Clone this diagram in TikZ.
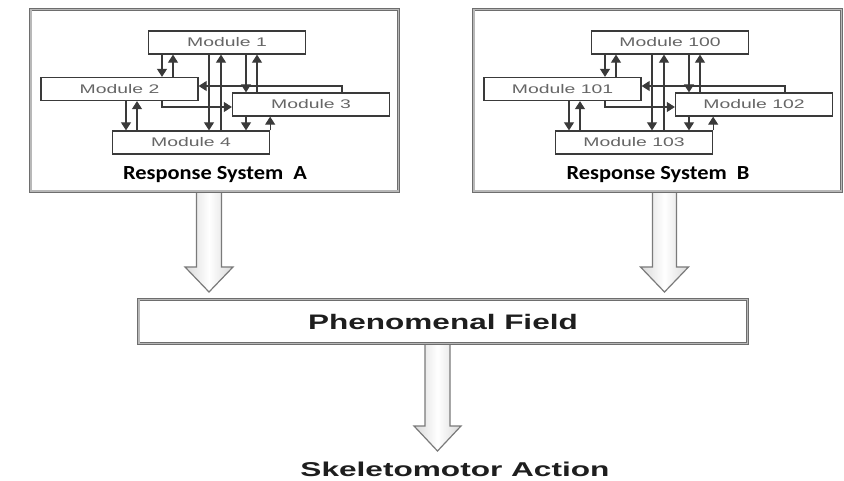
\documentclass[tikz,border=0pt]{standalone}
\usepackage{fontspec}
\usetikzlibrary{arrows.meta,calc}
\newfontfamily\modfont[FakeStretch=1.55]{Liberation Sans}
\newfontfamily\phenfont[FakeStretch=1.5]{Liberation Sans}
\newfontfamily\skelfont[FakeStretch=1.58]{Liberation Sans}
\newfontfamily\titlefont[FakeStretch=1.12]{Carlito}
\definecolor{modline}{HTML}{3A3A3A}
\definecolor{modtext}{HTML}{666666}
\definecolor{frameout}{HTML}{6E6E6E}
\definecolor{framemid}{HTML}{B8B8B8}
\definecolor{arrowline}{HTML}{7A7A7A}
\definecolor{bigtext}{HTML}{1E1E1E}
\pgfdeclarelayer{background}
\pgfsetlayers{background,main}
\tikzset{
  module/.style={draw=modline, line width=1.3pt, fill=white, minimum width=157pt,
    minimum height=23pt, inner sep=0pt, font=\modfont\fontsize{12.5}{15}\selectfont, text=modtext},
  mar/.style={draw=modline, line width=1.1pt, -{Triangle[length=8pt,width=10pt]}},
  frame/.style={draw=frameout, double=framemid, double distance=1.6pt, line width=0.9pt,
    fill=white, inner sep=0pt},
  hollow/.style={draw=arrowline, line width=1.2pt, left color=gray!30, right color=gray!30,
    middle color=white, line join=miter},
  systitle/.style={font=\titlefont\bfseries\fontsize{20}{24}\selectfont, text=black, anchor=base, inner sep=0pt},
}
\newcommand\respsys[7]{%
  \begin{scope}[xshift=#2]
    \node[frame, minimum width=367.6pt, minimum height=181.6pt] (#1sys) at (214.5,100.5) {};
    \node[module] (#1m1) at (227,42.5) {#3};
    \node[module] (#1m2) at (119.5,89) {#4};
    \node[module] (#1m3) at (311,104.5) {#5};
    \node[module] (#1m4) at (191,142.5) {#6};
    \draw[mar] (162,0 |- #1m1.south) -- (162,0 |- #1m2.north);
    \draw[mar] (173,0 |- #1m2.north) -- (173,0 |- #1m1.south);
    \draw[mar] (209,0 |- #1m1.south) -- (209,0 |- #1m4.north);
    \draw[mar] (221,0 |- #1m4.north) -- (221,0 |- #1m1.south);
    \draw[mar] (246,0 |- #1m1.south) -- (246,0 |- #1m3.north);
    \draw[mar] (257,0 |- #1m3.north) -- (257,0 |- #1m1.south);
    \draw[mar] (126,0 |- #1m2.south) -- (126,0 |- #1m4.north);
    \draw[mar] (137,0 |- #1m4.north) -- (137,0 |- #1m2.south);
    \draw[mar] (246,0 |- #1m3.south) -- (246,0 |- #1m4.north);
    \draw[mar] (#1m4.north east) -- (#1m4.north east |- #1m3.south);
    \draw[mar] (342,0 |- #1m3.north) -- (342,86) -- (#1m2.east |- 0,86);
    \draw[mar] (162,0 |- #1m2.south) -- (162,107) -- (#1m3.west |- 0,107);
    \node[systitle] (#1title) at (215,180) {#7};
  \end{scope}}

\begin{document}
\begin{tikzpicture}[x=1pt, y=-1pt]
  \useasboundingbox (0,0) rectangle (844,481);
  \begin{pgfonlayer}{background}
    \fill[white] (0,0) rectangle (844,481);
  \end{pgfonlayer}

  \respsys{A}{0pt}{Module 1}{Module 2}{Module 3}{Module 4}{Response System~ A}
  \respsys{B}{443pt}{Module 100}{Module 101}{Module 102}{Module 103}{Response System~ B}

  \node[frame, minimum width=608.6pt, minimum height=43.6pt,
        font=\phenfont\bfseries\fontsize{21}{25}\selectfont, text=bigtext]
        (ph) at (443,321.5) {\raisebox{-3pt}{Phenomenal Field}};

  \node[font=\skelfont\bfseries\fontsize{20}{24}\selectfont, text=bigtext, anchor=base, inner sep=0pt]
        (skel) at (455,476) {Skeletomotor Action};

  \begin{pgfonlayer}{background}
    \draw[hollow] (196.5,0 |- Asys.south) -- (196.5,267) -- (185,267) -- (209,292)
      -- (233,267) -- (221.5,267) -- (221.5,0 |- Asys.south) -- cycle;
    \draw[hollow] (652.5,0 |- Bsys.south) -- (652.5,267) -- (640.5,267) -- (664.5,292)
      -- (688.5,267) -- (676.5,267) -- (676.5,0 |- Bsys.south) -- cycle;
    \draw[hollow] (425,0 |- ph.south) -- (425,426) -- (414,426) -- (437.5,451)
      -- (461,426) -- (450,426) -- (450,0 |- ph.south) -- cycle;
  \end{pgfonlayer}
\end{tikzpicture}
\end{document}
